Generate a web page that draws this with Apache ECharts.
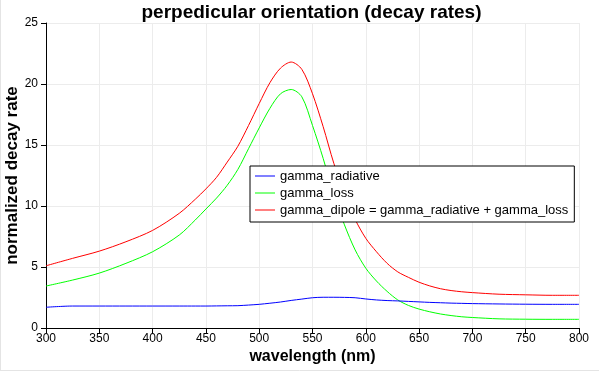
<!DOCTYPE html>
<html>
<head>
<meta charset="utf-8">
<script src="https://cdn.jsdelivr.net/npm/echarts@6/dist/echarts.min.js"></script>
<style>
html,body{margin:0;padding:0;background:#fff;}
#c{width:599px;height:372px;}
</style>
</head>
<body>
<div id="c"></div>
<script>
var wavelengths = [300,325,350,375,400,425,440,450,460,470,480,490,500,510,520,530,540,550,560,570,580,590,600,610,620,630,640,650,660,670,680,690,700,725,750,775,800];
var gammaRadiative = [1.70,1.80,1.80,1.80,1.80,1.80,1.80,1.80,1.81,1.82,1.83,1.88,1.94,2.03,2.13,2.26,2.37,2.48,2.52,2.52,2.51,2.48,2.38,2.30,2.25,2.22,2.18,2.14,2.10,2.07,2.04,2.02,2.00,1.97,1.95,1.94,1.94];
var gammaLoss = [3.44,3.93,4.50,5.30,6.25,7.62,8.85,9.75,10.65,11.7,13.0,14.7,16.4,18.0,19.2,19.55,18.95,16.6,13.9,10.9,8.45,6.4,4.9,3.85,3.0,2.3,1.85,1.55,1.33,1.15,1.02,0.92,0.86,0.75,0.72,0.71,0.71];
var gammaDipole = [5.10,5.71,6.30,7.07,8.00,9.40,10.55,11.4,12.35,13.6,14.9,16.6,18.4,20.1,21.3,21.8,21.2,19.2,16.5,13.5,11.0,8.9,7.35,6.25,5.3,4.6,4.15,3.75,3.45,3.22,3.07,2.97,2.90,2.77,2.72,2.68,2.68];
var seriesNames = ['gamma_radiative','gamma_loss','gamma_dipole = gamma_radiative + gamma_loss'];
var seriesColors = ['#0000ff','#00ff00','#ff0000'];
var titleText = 'perpedicular orientation (decay rates)';
var xName = 'wavelength (nm)';
var yName = 'normalized decay rate';

function pairs(vals){ return wavelengths.map(function(w,i){ return [w, vals[i]]; }); }
var allVals = [gammaRadiative, gammaLoss, gammaDipole];

var font = '"Liberation Sans", Arial, sans-serif';
var chart = echarts.init(document.getElementById('c'), null, {renderer:'canvas'});
chart.setOption({
  animation:false,
  backgroundColor:'#fff',
  graphic:[
    {type:'text', x:311.5, y:12.5, style:{text:titleText, align:'center', verticalAlign:'middle', fill:'#000', font:'bold 19px ' + font}},
    {type:'line', shape:{x1:0.5,y1:0,x2:0.5,y2:371}, style:{stroke:'#e4e4e4', lineWidth:1}},
    {type:'line', shape:{x1:0,y1:370.5,x2:599,y2:370.5}, style:{stroke:'#e4e4e4', lineWidth:1}}
  ],
  grid:{left:46, right:20, top:23, bottom:44, containLabel:false, outerBoundsMode:'none'},
  legend:{
    orient:'vertical', left:250, top:166,
    backgroundColor:'#fff', borderColor:'#000', borderWidth:1, borderRadius:0,
    padding:[3,6,5,5], itemWidth:20, itemHeight:1, itemGap:3,
    icon:'rect',
    textStyle:{fontFamily:font, fontSize:13, color:'#000', lineHeight:14},
    data:seriesNames
  },
  xAxis:{
    type:'value', min:300, max:800, interval:50,
    name:xName, nameLocation:'middle', nameGap:21, nameMoveOverlap:false,
    nameTextStyle:{fontFamily:font, fontSize:16, fontWeight:'bold', color:'#000'},
    axisLine:{show:true, onZero:false, lineStyle:{color:'#000', width:1}},
    axisTick:{show:true, length:5, lineStyle:{color:'#000'}},
    axisLabel:{fontFamily:font, fontSize:12, color:'#000', margin:5},
    splitLine:{show:true, lineStyle:{color:'#ececec', width:1}}
  },
  yAxis:{
    type:'value', min:0, max:25, interval:5,
    name:yName, nameLocation:'middle', nameGap:25, nameMoveOverlap:false,
    nameTextStyle:{fontFamily:font, fontSize:17, fontWeight:'bold', color:'#000'},
    axisLine:{show:true, lineStyle:{color:'#000', width:1}},
    axisTick:{show:true, length:5, lineStyle:{color:'#000'}},
    axisLabel:{fontFamily:font, fontSize:12, color:'#000', margin:8},
    splitLine:{show:true, lineStyle:{color:'#ececec', width:1}}
  },
  series: seriesNames.map(function(n,i){
    return {
      name:n, type:'line', data:pairs(allVals[i]), symbol:'none', smooth:0.3,
      lineStyle:{color:seriesColors[i], width:1}, itemStyle:{color:seriesColors[i]},
      z: 3 - i
    };
  })
});
</script>
</body>
</html>
